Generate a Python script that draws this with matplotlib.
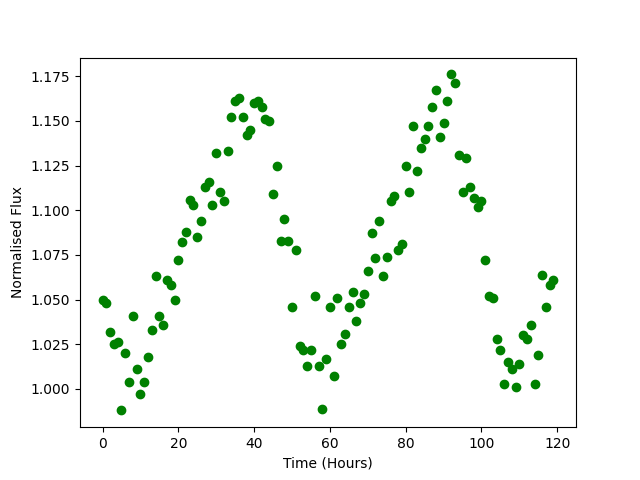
import numpy as np
from matplotlib import pyplot as plt

# time in hours, one sample per hour
hours = np.arange(120)

# normalised flux
flux = [1.050, 1.048, 1.032, 1.025, 1.026, 0.988, 1.020, 1.004, 1.041, 1.011,
        0.997, 1.004, 1.018, 1.033, 1.063, 1.041, 1.036, 1.061, 1.058, 1.050,
        1.072, 1.082, 1.088, 1.106, 1.103, 1.085, 1.094, 1.113, 1.116, 1.103,
        1.132, 1.110, 1.105, 1.133, 1.152, 1.161, 1.163, 1.152, 1.142, 1.145,
        1.160, 1.161, 1.158, 1.151, 1.150, 1.109, 1.125, 1.083, 1.095, 1.083,
        1.046, 1.078, 1.024, 1.022, 1.013, 1.022, 1.052, 1.013, 0.989, 1.017,
        1.046, 1.007, 1.051, 1.025, 1.031, 1.046, 1.054, 1.038, 1.048, 1.053,
        1.066, 1.087, 1.073, 1.094, 1.063, 1.074, 1.105, 1.108, 1.078, 1.081,
        1.125, 1.110, 1.147, 1.122, 1.135, 1.140, 1.147, 1.158, 1.167, 1.141,
        1.149, 1.161, 1.176, 1.171, 1.131, 1.110, 1.129, 1.113, 1.107, 1.102,
        1.105, 1.072, 1.052, 1.051, 1.028, 1.022, 1.003, 1.015, 1.011, 1.001,
        1.014, 1.030, 1.028, 1.036, 1.003, 1.019, 1.064, 1.046, 1.058, 1.061]

plt.figure(figsize=(6.4, 4.8), dpi=100)
plt.plot(hours, flux, 'go')
plt.xlabel('Time (Hours)')
plt.ylabel('Normalised Flux')
plt.savefig('out.png')
